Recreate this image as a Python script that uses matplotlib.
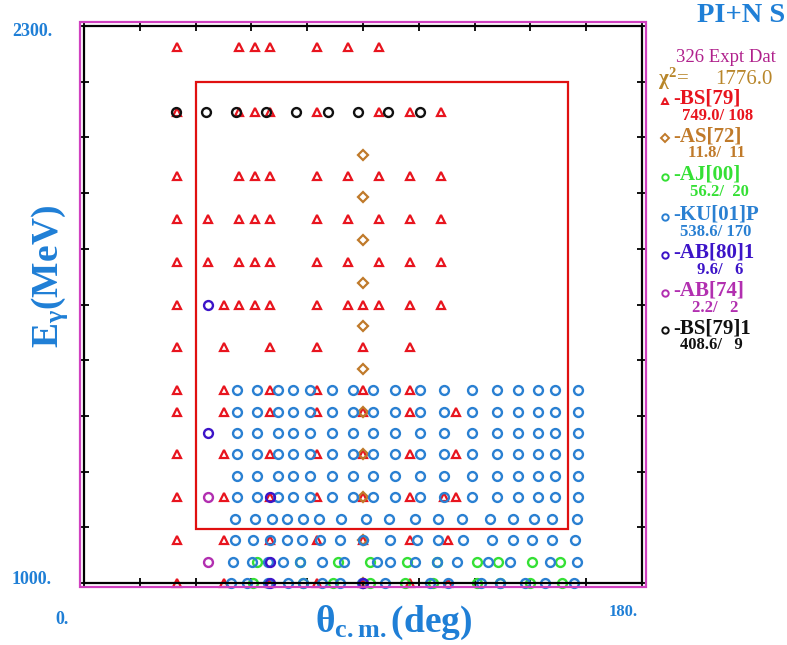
import matplotlib
matplotlib.use("Agg")
import matplotlib.pyplot as plt
from matplotlib.patches import Rectangle
from matplotlib.lines import Line2D

plt.rcParams['font.family'] = ['Liberation Serif', 'DejaVu Serif']
plt.rcParams['mathtext.fontset'] = 'custom'
plt.rcParams['mathtext.rm'] = 'Liberation Serif:bold'
plt.rcParams['mathtext.it'] = 'Liberation Serif:bold'
plt.rcParams['mathtext.bf'] = 'Liberation Serif:bold'

# ---------------------------------------------------------------- data
theta_range = (0.0, 180.0)
egamma_range = (1000.0, 2300.0)

# BS[79]: angles (deg) measured at each photon energy (MeV)
bs79_rows = {
    2250: [30, 50, 55, 60, 75, 85, 95],
    2100: [30, 50, 55, 60, 75, 95, 105, 115],
    1950: [30, 50, 55, 60, 75, 85, 95, 105, 115],
    1850: [30, 40, 50, 55, 60, 75, 85, 95, 105, 115],
    1750: [30, 40, 50, 55, 60, 75, 85, 95, 105, 115],
    1650: [30, 45, 50, 55, 60, 75, 85, 90, 95, 105, 115],
    1550: [30, 45, 60, 75, 90, 105],
    1450: [30, 45, 60, 75, 90, 105],
    1400: [30, 45, 60, 75, 90, 105, 120],
    1300: [30, 45, 60, 75, 90, 105, 120],
    1200: [30, 45, 60, 75, 90, 105, 116, 120],
    1100: [30, 45, 60, 75, 90, 105, 117.5],
    1000: [30, 45, 60, 75, 90, 105, 117.5],
}

# AS[72]: fixed angle, energy scan
as72_theta = 90
as72_energy = [2000, 1900, 1800, 1700, 1600, 1500, 1400, 1300, 1200, 1100, 1000]

# AJ[00]
aj00_rows = {
    1050: [55.7, 69.7, 82.0, 92.3, 104.1, 113.8, 126.7, 133.6, 144.4, 153.5],
    1000: [54.6, 70.7, 80.4, 92.3, 103.5, 112.7, 126.7, 134.2, 143.9, 154.1],
}

# KU[01]P
ku01_cols_upper = [49.5, 55.9, 62.7, 67.5, 72.9, 79.9, 86.9, 93.1, 100.3,
                   108.4, 116.1, 125.1, 133.2, 140.1, 146.5, 151.9, 159.4]
ku01_upper_energies = [1450, 1400, 1350, 1300, 1250, 1200]
ku01_rows = {
    1150: [48.7, 55.2, 60.5, 65.4, 70.5, 75.9, 82.8, 91.0, 98.5, 106.8,
           114.3, 121.8, 131.0, 138.5, 145.0, 150.9, 158.9],
    1100: [48.7, 54.6, 60.0, 65.4, 70.2, 76.1, 82.6, 89.9, 98.7, 107.3,
           114.3, 122.4, 131.5, 138.5, 144.4, 150.9, 158.4],
    1050: [48.2, 54.1, 59.5, 64.3, 69.7, 76.7, 83.9, 94.4, 98.7, 106.8,
           113.8, 120.2, 130.4, 137.4, 150.3, 158.9],
    1000: [47.3, 52.5, 59.5, 65.9, 70.7, 76.7, 82.6, 89.6, 97.1, 111.6,
           117.5, 128.2, 134.2, 142.3, 148.7, 158.1],
}

# AB[80]1
ab80_theta = [40, 40, 60, 60, 60, 90]
ab80_energy = [1650, 1350, 1200, 1050, 1000, 1000]

# AB[74]
ab74_theta = [40, 40]
ab74_energy = [1200, 1050]

# BS[79]1
bs79b_theta = [29.7, 39.4, 49.0, 58.7, 68.4, 78.6, 88.3, 98.2, 108.4]
bs79b_energy = [2100] * 9

# selected region
box_theta = (36, 156)
box_energy = (1125, 2170)

# legend entries: (symbol, label, chi2, points)
legend_names = ["-BS[79]", "-AS[72]", "-AJ[00]", "-KU[01]P",
                "-AB[80]1", "-AB[74]", "-BS[79]1"]
legend_symbols = ["^", "D", "o", "o", "o", "o", "o"]
legend_chi2 = [749.0, 11.8, 56.2, 538.6, 9.6, 2.2, 408.6]
legend_npts = [108, 11, 20, 170, 6, 2, 9]
n_points_total = 326
chi2_total = 1776.0

# ---------------------------------------------------------------- styles
RED = "#e8141e"
BROWN = "#c07a2a"
GREEN = "#35e035"
BLUE = "#2a80d2"
VIOLET = "#3c14c8"
MAGENTA = "#b22fb0"
BLACK = "#111111"
TEXT_BLUE = "#1f7fd6"
legend_colors = [RED, BROWN, GREEN, BLUE, VIOLET, MAGENTA, BLACK]

W, H = 787, 645
fig = plt.figure(figsize=(W / 100, H / 100), dpi=100)


def fx(px):
    return px / W


def fy(py):
    return 1 - py / H


ax = fig.add_axes([fx(84), fy(583), fx(642) - fx(84), fy(26) - fy(583)])
ax.set_xlim(*theta_range)
ax.set_ylim(*egamma_range)


def rows_to_xy(rows):
    xs, ys = [], []
    for e, angles in rows.items():
        xs += list(angles)
        ys += [e] * len(angles)
    return xs, ys


circ = dict(ls="none", marker="o", ms=6.4, mfc="none", mew=1.7, clip_on=False)

x, y = rows_to_xy(bs79_rows)
ax.plot(x, y, ls="none", marker="^", ms=5.8, mfc="none", mec=RED, mew=1.6,
        clip_on=False)
ax.plot([as72_theta] * len(as72_energy), as72_energy, ls="none", marker="D",
        ms=4.6, mfc="none", mec=BROWN, mew=1.6, clip_on=False)
x, y = rows_to_xy(aj00_rows)
ax.plot(x, y, mec=GREEN, **circ)
ku_rows = {e: ku01_cols_upper for e in ku01_upper_energies}
ku_rows.update(ku01_rows)
x, y = rows_to_xy(ku_rows)
ax.plot(x, y, mec=BLUE, **circ)
ax.plot(ab80_theta, ab80_energy, mec=VIOLET, **circ)
ax.plot(ab74_theta, ab74_energy, mec=MAGENTA, **circ)
ax.plot(bs79b_theta, bs79b_energy, mec=BLACK, **circ)

ax.add_patch(Rectangle((box_theta[0], box_energy[0]),
                       box_theta[1] - box_theta[0],
                       box_energy[1] - box_energy[0],
                       fill=False, ec="#e01010", lw=1.6, zorder=5))

ax.set_xticks([theta_range[0] + i * 18 for i in range(11)])
ax.set_yticks([egamma_range[0] + i * 130 for i in range(11)])
ax.tick_params(which="both", direction="inout", length=7, width=1.3,
               color="black", top=True, right=True,
               labelbottom=False, labelleft=False)
for s in ax.spines.values():
    s.set_linewidth(1.6)
    s.set_color("black")

# outer magenta frame
fig.add_artist(Rectangle((fx(80), fy(587)), fx(646) - fx(80), fy(22) - fy(587),
                         transform=fig.transFigure, fill=False,
                         ec="#d040c0", lw=1.6))

# axis end labels
bold_blue = dict(color=TEXT_BLUE, fontweight="bold")
fig.text(fx(52), fy(32), "%d." % egamma_range[1], ha="right", va="center",
         fontsize=13, **bold_blue)
fig.text(fx(52), fy(579), "%d." % egamma_range[0], ha="right", va="center",
         fontsize=13, **bold_blue)
fig.text(fx(55), fy(620), "%d." % theta_range[0], ha="left", va="center",
         fontsize=13, **bold_blue)
fig.text(fx(638), fy(612), "%d." % theta_range[1], ha="right", va="center",
         fontsize=12, **bold_blue)

# axis titles
fig.text(fx(394), fy(632), r"$\theta_{\mathrm{c.m.}}$(deg)", ha="center",
         va="baseline", fontsize=27, **bold_blue)
fig.text(fx(50), fy(277), r"E$_{\gamma}$(MeV)", ha="center", va="center",
         rotation=90, fontsize=27, **bold_blue)

# title
fig.text(fx(785), fy(16), "PI+N S", ha="right", va="center", fontsize=20.5,
         **bold_blue)

# legend block
fig.text(fx(676), fy(57), "%d Expt Dat" % n_points_total, ha="left",
         va="center", fontsize=13.5, color="#b0208c")
fig.text(fx(658), fy(79), r"$\chi^2$=", ha="left", va="center", fontsize=15,
         color="#b8862a")
fig.text(fx(773), fy(79), "%.1f" % chi2_total, ha="right", va="center",
         fontsize=15, color="#b8862a")
name_y = [99, 136, 175, 215, 253, 291, 328]
stat_x = [682, 688, 690, 680, 697, 692, 680]
for i in range(len(legend_names)):
    col = legend_colors[i]
    py = name_y[i]
    mk = legend_symbols[i]
    ms = 3.6 if mk == "D" else 4.6
    fig.add_artist(Line2D([fx(665)], [fy(py + 2)], transform=fig.transFigure,
                          marker=mk, ms=ms, mfc="none", mec=col, mew=1.4))
    fig.text(fx(673), fy(py), legend_names[i], ha="left", va="center",
             fontsize=15, fontweight="bold", color=col)
    npts = legend_npts[i]
    pad = "   " if npts < 10 else ("  " if npts < 100 else " ")
    fig.text(fx(stat_x[i]), fy(py + 17), "%.1f/%s%d" % (legend_chi2[i], pad, npts),
             ha="left", va="center", fontsize=12, fontweight="bold", color=col)

fig.savefig("out.png", dpi=100, facecolor="white")
